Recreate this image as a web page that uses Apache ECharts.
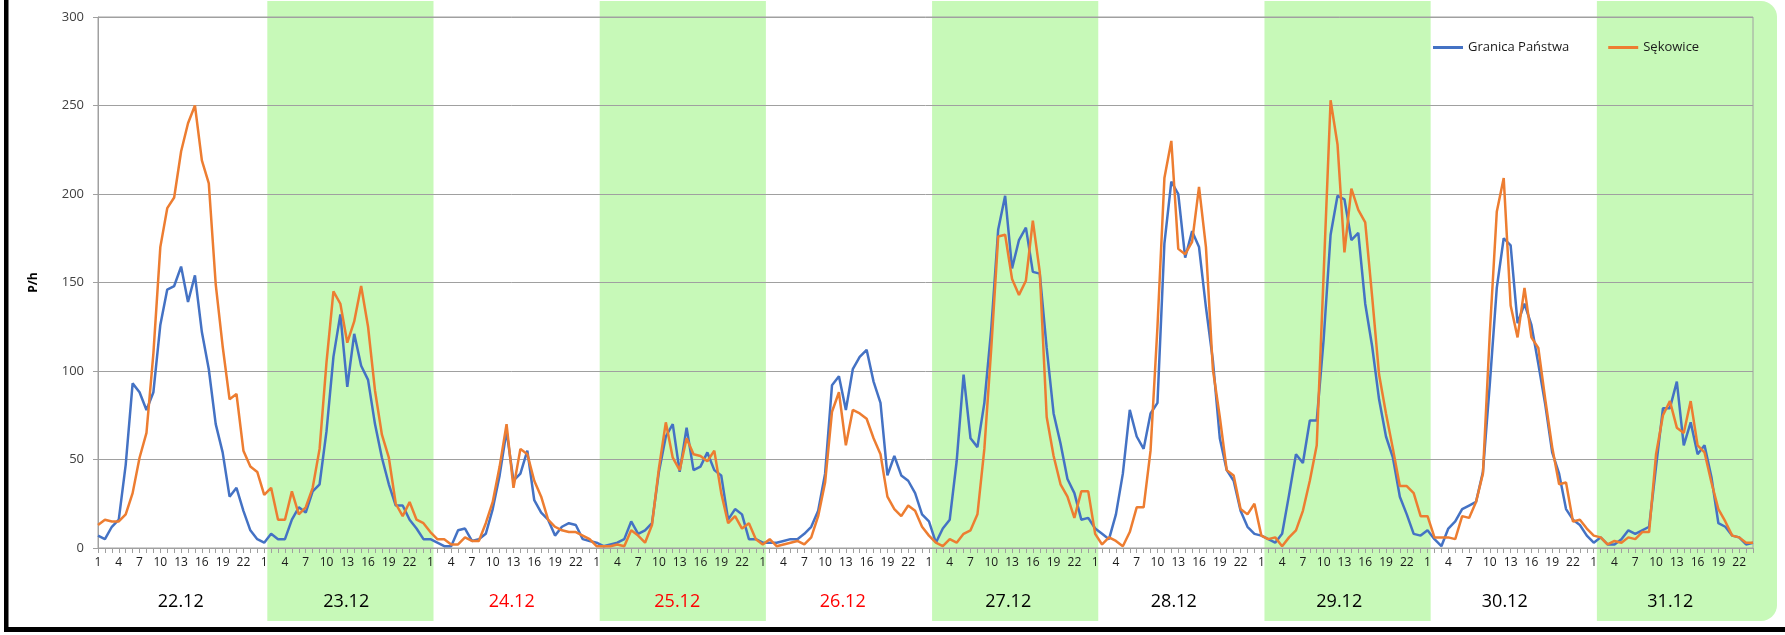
<!DOCTYPE html>
<html>
<head>
<meta charset="utf-8">
<script src="https://cdn.jsdelivr.net/npm/echarts@6/dist/echarts.min.js"></script>
<style>
  html, body { margin: 0; padding: 0; background: #ffffff; }
  #chart { width: 1785px; height: 635px; }
</style>
</head>
<body>
<div id="chart"></div>
<script>
// ---- data ----
const dayLabels = ['22.12', '23.12', '24.12', '25.12', '26.12', '27.12', '28.12', '29.12', '30.12', '31.12'];
const holidayDays = ['24.12', '25.12', '26.12'];
const shadedDays = ['23.12', '25.12', '27.12', '29.12', '31.12'];
const hourLabels = ['1','2','3','4','5','6','7','8','9','10','11','12','13','14','15','16','17','18','19','20','21','22','23','24'];
const yTicks = { min: 0, max: 300, step: 50 };

const granicaPanstwa = [
  7, 5, 12, 16, 47, 93, 88, 78, 88, 126, 146, 148, 159, 139, 154, 122, 101, 70, 54, 29, 34, 21, 10, 5,
  3, 8, 5, 5, 16, 23, 20, 32, 36, 66, 108, 132, 91, 121, 103, 95, 70, 51, 36, 24, 24, 16, 11, 5,
  5, 3, 1, 1, 10, 11, 4, 5, 8, 22, 41, 66, 38, 42, 55, 27, 20, 16, 7, 12, 14, 13, 5, 4,
  3, 1, 2, 3, 5, 15, 8, 10, 14, 43, 63, 70, 43, 68, 44, 46, 54, 44, 41, 16, 22, 19, 5, 5,
  3, 3, 3, 4, 5, 5, 8, 12, 21, 42, 92, 97, 78, 101, 108, 112, 94, 82, 41, 52, 41, 38, 31, 19,
  15, 3, 11, 16, 49, 98, 62, 57, 82, 124, 180, 199, 158, 174, 181, 156, 155, 113, 76, 59, 39, 31, 16, 17,
  11, 8, 5, 19, 42, 78, 63, 56, 76, 82, 172, 207, 200, 164, 179, 170, 136, 106, 62, 44, 38, 21, 12, 8,
  7, 5, 3, 8, 30, 53, 48, 72, 72, 118, 177, 199, 197, 174, 178, 138, 114, 84, 63, 51, 29, 19, 8, 7,
  10, 5, 1, 11, 15, 22, 24, 26, 43, 93, 147, 175, 171, 127, 138, 126, 104, 81, 54, 42, 22, 16, 13, 7,
  3, 6, 2, 2, 5, 10, 8, 10, 12, 46, 79, 79, 94, 58, 71, 53, 58, 40, 14, 12, 7, 6, 2, 3
];
const sekowice = [
  13, 16, 15, 15, 19, 31, 51, 65, 110, 170, 192, 198, 224, 240, 250, 219, 206, 149, 114, 84, 87, 55, 46, 43,
  30, 34, 16, 16, 32, 19, 23, 34, 56, 105, 145, 138, 116, 128, 148, 125, 89, 64, 51, 25, 18, 26, 16, 14,
  9, 5, 5, 2, 2, 6, 4, 4, 14, 26, 46, 70, 34, 56, 53, 38, 29, 16, 12, 10, 9, 9, 7, 5,
  1, 1, 1, 2, 1, 10, 7, 3, 13, 45, 71, 51, 44, 62, 53, 52, 49, 55, 31, 14, 18, 11, 14, 5,
  2, 5, 1, 2, 3, 4, 2, 6, 18, 37, 77, 88, 58, 78, 76, 73, 62, 53, 29, 22, 18, 24, 21, 12,
  7, 3, 1, 5, 3, 8, 10, 19, 56, 113, 176, 177, 152, 143, 151, 185, 156, 74, 52, 36, 29, 17, 32, 32,
  8, 2, 6, 4, 1, 9, 23, 23, 55, 125, 209, 230, 169, 166, 173, 204, 170, 101, 74, 44, 41, 22, 19, 25,
  7, 5, 6, 1, 6, 10, 21, 38, 58, 155, 253, 228, 167, 203, 191, 184, 142, 98, 76, 56, 35, 35, 31, 18,
  18, 6, 6, 6, 5, 18, 17, 26, 42, 122, 190, 209, 137, 119, 147, 119, 113, 84, 57, 36, 37, 15, 16, 11,
  7, 6, 2, 4, 3, 6, 5, 9, 9, 53, 75, 83, 68, 65, 83, 58, 54, 37, 22, 15, 7, 6, 3, 3
];

// ---- derived ----
const categories = [];
dayLabels.forEach(d => hourLabels.forEach(h => categories.push(d + '|' + h)));
const nPoints = categories.length;
const bandShift = 0.45;
const bandData = shadedDays.map(d => {
  const di = dayLabels.indexOf(d);
  const isLast = di === dayLabels.length - 1 ? 1 : 0;
  return [di * 24 + bandShift, di * 24 + 24 + bandShift, isLast, 0];
});

// ---- layout constants ----
const FONT = "'Open Sans', 'Noto Sans', sans-serif";
const GREEN = '#c7f9b8';
const BAND_TOP = 1;
const BAND_BOTTOM = 621;
const FRAME_RIGHT = 1777;
const GRID = { left: 98, right: 32, top: 17, bottom: 87 };
const GRAY = '#a0a0a0';

const chart = echarts.init(document.getElementById('chart'), null, { renderer: 'canvas' });

const option = {
  backgroundColor: '#ffffff',
  animation: false,
  textStyle: { fontFamily: FONT },
  grid: {
    left: GRID.left, right: GRID.right, top: GRID.top, bottom: GRID.bottom,
    show: true, borderColor: GRAY, borderWidth: 1, backgroundColor: 'transparent'
  },
  legend: {
    data: [
      { name: 'Granica Państwa', icon: 'rect' },
      { name: 'Sękowice', icon: 'rect' }
    ],
    left: 1428, top: 36,
    itemWidth: 30, itemHeight: 3, itemGap: 39,
    textStyle: { fontFamily: FONT, fontSize: 13, color: '#1a1a1a' }
  },
  xAxis: [
    {
      type: 'category',
      data: categories,
      boundaryGap: false,
      position: 'bottom',
      axisLine: { show: true, lineStyle: { color: GRAY, width: 1 } },
      axisTick: { show: true, interval: 0, length: 5, lineStyle: { color: GRAY } },
      axisLabel: {
        interval: 2, margin: 9, fontSize: 12, color: '#1a1a1a', fontFamily: FONT,
        formatter: v => v.split('|')[1]
      },
      splitLine: { show: false }
    },
    {
      type: 'category',
      data: dayLabels,
      boundaryGap: true,
      position: 'bottom',
      axisLine: { show: false },
      axisTick: { show: false },
      splitLine: { show: false },
      axisLabel: {
        interval: 0, margin: 45, fontSize: 18, fontFamily: FONT,
        color: (v) => holidayDays.indexOf(v) >= 0 ? '#ff0000' : '#000000'
      }
    },
    {
      type: 'value',
      min: 0, max: nPoints - 1,
      show: false
    }
  ],
  yAxis: {
    type: 'value',
    min: yTicks.min, max: yTicks.max, interval: yTicks.step,
    name: 'P/h',
    nameLocation: 'middle',
    nameGap: 58,
    nameRotate: 90,
    nameTextStyle: { fontFamily: FONT, fontSize: 12, fontWeight: 'bold', color: '#000' },
    axisLine: { show: true, lineStyle: { color: GRAY } },
    axisTick: { show: true, length: 5, lineStyle: { color: GRAY } },
    axisLabel: { margin: 14, fontSize: 13, color: '#404040', fontFamily: FONT },
    splitLine: { show: true, lineStyle: { color: GRAY, width: 1 } }
  },
  series: [
    {
      type: 'custom',
      name: 'bands',
      coordinateSystem: 'cartesian2d',
      xAxisIndex: 2,
      yAxisIndex: 0,
      clip: false,
      silent: true,
      z: -1,
      encode: { x: [0, 1], y: 3 },
      data: bandData,
      renderItem: function (params, api) {
        const x0 = api.coord([api.value(0), 0])[0];
        const last = api.value(2) === 1;
        const x1 = last ? FRAME_RIGHT : api.coord([api.value(1), 0])[0];
        return {
          type: 'rect',
          shape: { x: x0, y: BAND_TOP, width: x1 - x0, height: BAND_BOTTOM - BAND_TOP, r: last ? [0, 16, 16, 0] : 0 },
          style: { fill: GREEN }
        };
      }
    },
    {
      name: 'Granica Państwa',
      type: 'line',
      data: granicaPanstwa,
      xAxisIndex: 0,
      showSymbol: false,
      symbol: 'none',
      lineStyle: { color: '#4472C4', width: 2.5 },
      itemStyle: { color: '#4472C4' },
      z: 3
    },
    {
      name: 'Sękowice',
      type: 'line',
      data: sekowice,
      xAxisIndex: 0,
      showSymbol: false,
      symbol: 'none',
      lineStyle: { color: '#ED7D31', width: 2.5 },
      itemStyle: { color: '#ED7D31' },
      z: 4
    }
  ],
  graphic: [
    { type: 'rect', shape: { x: 4, y: 0, width: 4.5, height: 632 }, style: { fill: '#000' }, z: 100 },
    { type: 'rect', shape: { x: 4, y: 627, width: 1781, height: 5 }, style: { fill: '#000' }, z: 100 }
  ]
};

chart.setOption(option);
</script>
</body>
</html>
